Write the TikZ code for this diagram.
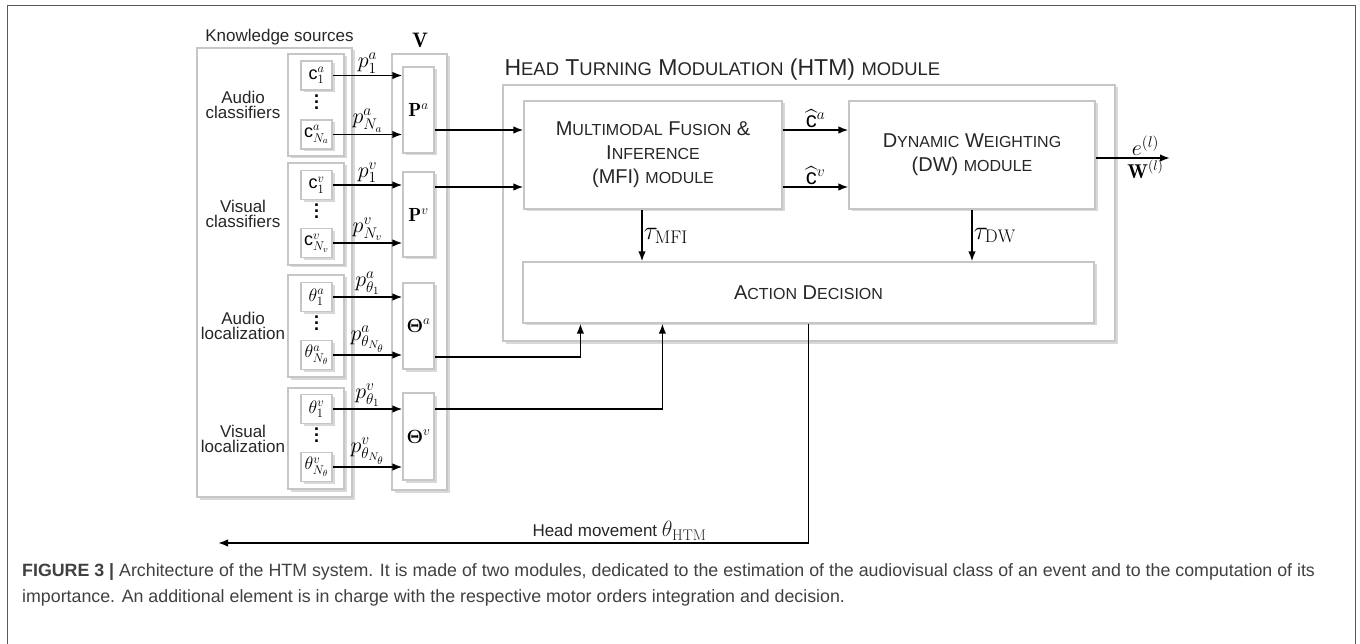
\RequirePackage{fix-cm}
\documentclass[tikz,border=0pt]{standalone}
\usepackage{amsmath,amssymb}
\usepackage{fontspec}
\setsansfont{Liberation Sans}
\usepackage{graphicx}
\usepackage{tikz}
\usetikzlibrary{arrows.meta,calc,positioning,shadows}
\newcommand{\smc}[1]{\scalebox{0.8}{\MakeUppercase{#1}}}

\begin{document}
\begin{tikzpicture}[x=1pt,y=-1pt,
  grpbox/.style={draw=gray!45, line width=1.2pt, fill=white, inner sep=0pt,
    drop shadow={shadow xshift=2.5pt, shadow yshift=-2.5pt, opacity=0.3}},
  elembox/.style={grpbox, minimum width=31pt, minimum height=29pt, font=\fontsize{18}{18}\selectfont},
  pbox/.style={elembox, font=\fontsize{19}{19}\selectfont},
  modbox/.style={grpbox, align=center, text=black!85, font=\sffamily\fontsize{20}{24}\selectfont},
  lbl/.style={font=\sffamily\fontsize{17}{15}\selectfont, text=black!85, align=center},
  mlbl/.style={font=\fontsize{22}{22}\selectfont, inner sep=1.5pt},
  tlbl/.style={font=\fontsize{26}{26}\selectfont, inner sep=1pt},
  dotsnode/.style={align=center, inner sep=0pt, font=\sffamily\bfseries\fontsize{18}{6}\selectfont},
  arr/.style={-{Latex[length=10pt,width=7.5pt]}, line width=1.7pt}]
\useasboundingbox (0,0) rectangle (1360,644);
\draw[black!65, line width=1pt] (7,644) -- (7,6) -- (1355,6) -- (1355,644);

% Knowledge sources
\node[grpbox, minimum width=155pt, minimum height=449pt] (ks) at (274.5,272.5) {};
\node[lbl] (kslbl) at (279.5,37) {Knowledge sources};
\node[grpbox, minimum width=56pt, minimum height=102pt] (ac) at (316,105) {};
\node[grpbox, minimum width=56pt, minimum height=102pt] (vc) at (316,214) {};
\node[grpbox, minimum width=56pt, minimum height=102pt] (al) at (316,326) {};
\node[grpbox, minimum width=56pt, minimum height=101pt] (vl) at (316,438.5) {};
\node[lbl] (aclbl) at (243,105) {Audio\\classifiers};
\node[lbl] (vclbl) at (243,214) {Visual\\classifiers};
\node[lbl] (allbl) at (243,326) {Audio\\localization};
\node[lbl] (vllbl) at (243,438.5) {Visual\\localization};

% Elements
\node[elembox] (c1a) at (316.5,75.5) {$\mathsf{c}_1^a$}; \node[elembox] (cNa) at (316.5,134.5) {$\mathsf{c}_{N_a}^a$};
\node[elembox] (c1v) at (316.5,185) {$\mathsf{c}_1^v$}; \node[elembox] (cNv) at (316.5,243) {$\mathsf{c}_{N_v}^v$};
\node[elembox] (t1a) at (316.5,297) {$\theta_1^a$}; \node[elembox] (tNa) at (316.5,355) {$\theta_{N_\theta}^a$};
\node[elembox] (t1v) at (316.5,409) {$\theta_1^v$}; \node[elembox] (tNv) at (316.5,467) {$\theta_{N_\theta}^v$};
\node[dotsnode] (dac) at (316.5,102) {.\\.\\.}; \node[dotsnode] (dvc) at (316.5,211) {.\\.\\.};
\node[dotsnode] (dal) at (316.5,323) {.\\.\\.}; \node[dotsnode] (dvl) at (316.5,435) {.\\.\\.};

% Vector V
\node[grpbox, minimum width=55pt, minimum height=436pt] (vv) at (419.5,272) {};
\node[font=\fontsize{21}{21}\selectfont] (vlbl) at (420,40) {$\mathbf{V}$};
\node[pbox, minimum height=86pt] (pa) at (418.5,110) {$\mathbf{P}^a$};
\node[pbox, minimum height=85pt] (pv) at (418.5,214.5) {$\mathbf{P}^v$};
\node[pbox, minimum height=86pt] (ta) at (418.5,326) {$\boldsymbol{\Theta}^a$};
\node[pbox, minimum height=87pt] (tv) at (418.5,436.5) {$\boldsymbol{\Theta}^v$};

% Probabilities
\draw[arr] (c1a) -- node[mlbl, above] {$p_1^a$} (c1a -| pa.west);
\draw[arr] (cNa) -- node[mlbl, above] {$p_{N_a}^a$} (cNa -| pa.west);
\draw[arr] (c1v) -- node[mlbl, above] {$p_1^v$} (c1v -| pv.west);
\draw[arr] (cNv) -- node[mlbl, above] {$p_{N_v}^v$} (cNv -| pv.west);
\draw[arr] (t1a) -- node[mlbl, above] {$p_{\theta_1}^a$} (t1a -| ta.west);
\draw[arr] (tNa) -- node[mlbl, above] {$p_{\theta_{N_\theta}}^a$} (tNa -| ta.west);
\draw[arr] (t1v) -- node[mlbl, above] {$p_{\theta_1}^v$} (t1v -| tv.west);
\draw[arr] (tNv) -- node[mlbl, above] {$p_{\theta_{N_\theta}}^v$} (tNv -| tv.west);

% HTM module
\node[grpbox, minimum width=612pt, minimum height=256pt] (htm) at (809,213) {};
\node[anchor=base west, inner sep=0pt, text=black!85, font=\sffamily\fontsize{23}{23}\selectfont] (htmlbl)
  at ([xshift=2pt,yshift=9pt]htm.north west) {H\smc{ead} T\smc{urning} M\smc{odulation} (HTM) \smc{module}};
\node[modbox, minimum width=258pt, minimum height=108pt] (mfi) at (653,155)
  {M\smc{ultimodal} F\smc{usion} \&\\ I\smc{nference}\\ (MFI) \smc{module}};
\node[modbox, minimum width=246pt, minimum height=108pt] (dw) at (972,155)
  {D\smc{ynamic} W\smc{eighting}\\ (DW) \smc{module}};
\node[modbox, minimum width=571pt, minimum height=61pt] (ad) at (808.5,292.5) {A\smc{ction} D\smc{ecision}};

% Connections
\draw[arr] ([yshift=-20pt]pa.east) coordinate (pao) -- (pao -| mfi.west);
\draw[arr] ([yshift=27.5pt]pv.east) coordinate (pvo) -- (pvo -| mfi.west);
\draw[arr] (pao -| mfi.east) -- node[mlbl, above] {$\widehat{\mathsf{c}}^a$} (pao -| dw.west);
\draw[arr] (pvo -| mfi.east) -- node[mlbl, above] {$\widehat{\mathsf{c}}^v$} (pvo -| dw.west);
\coordinate (wout) at (1170,158);
\draw[arr] (wout -| dw.east) -- node[mlbl, above, pos=0.67] {$e^{(l)}$}
  node[mlbl, below, pos=0.67, font=\fontsize{20}{20}\selectfont] {$\mathbf{W}^{(l)}$} (wout);
\draw[arr] ([xshift=-11pt]mfi.south) coordinate (tmo) -- node[tlbl, right] {$\tau_{\mathrm{MFI}}$} (tmo |- ad.north);
\draw[arr] (dw.south) -- node[tlbl, right] {$\tau_{\mathrm{DW}}$} (dw.south |- ad.north);
\draw[arr] ([yshift=-31pt]ta.east) -| ([xshift=58pt]ad.south west);
\draw[arr] ([yshift=27.5pt]tv.east) -| ([xshift=140pt]ad.south west);
\coordinate (hm) at (218,543);
\draw[arr] (ad.south) |- node[lbl, above, pos=0.66, inner sep=2pt] {Head movement \fontsize{22}{22}\selectfont$\theta_{\mathrm{HTM}}$} (hm);

% Caption
\node[anchor=base west, inner sep=0pt, align=left, text=black!75, font=\sffamily\fontsize{17.8}{26}\selectfont] (cap) at (22,602)
  {\textbf{FIGURE 3 |} Architecture of the HTM system. It is made of two modules, dedicated to the estimation of the audiovisual class of an event and to the computation of its\\
   importance. An additional element is in charge with the respective motor orders integration and decision.};
\end{tikzpicture}
\end{document}
